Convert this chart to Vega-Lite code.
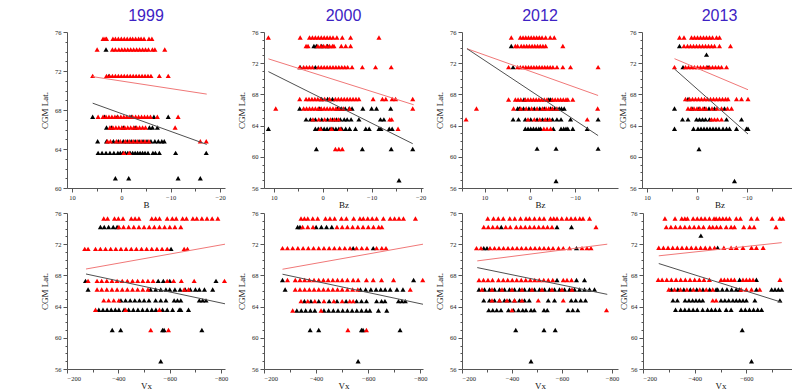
{
"$schema":"https://vega.github.io/schema/vega-lite/v6.json",
"background":"white",
"padding":{"left":40,"top":8,"right":0,"bottom":0},
"spacing":0,
"config":{
 "view":{"stroke":null},
 "axis":{"grid":false,"domainColor":"#555","tickColor":"#555","labelColor":"#222","labelFont":"Liberation Serif","labelFontSize":6.5,"labelOverlap":false,"titleFont":"Liberation Serif","titleFontSize":9,"titleFontWeight":"normal","titleColor":"#111","labelPadding":2,"tickSize":4},
 "axisY":{"titlePadding":5},
 "axisX":{"titlePadding":0},
 "point":{"shape":"triangle-up","filled":true,"size":26,"opacity":1,"strokeWidth":0},
 "line":{"strokeWidth":1},
 "title":{"font":"Liberation Sans","fontSize":16,"fontWeight":"normal","color":"#3d22c4","offset":5}
},
"datasets":{
"k1":[{"x":3.1,"y":74.2},{"x":2.5,"y":71.5},
{"x":5.8,"y":67.3},{"x":3.4,"y":67.3},{"x":0.8,"y":67.3},{"x":-2.0,"y":67.3},{"x":-6.6,"y":67.3},{"x":-9.5,"y":67.3},
{"x":3.0,"y":66.2},{"x":2.0,"y":66.2},{"x":-0.4,"y":66.2},{"x":-2.8,"y":66.2},{"x":-5.7,"y":66.2},{"x":-6.3,"y":66.2},{"x":-7.3,"y":66.2},
{"x":4.8,"y":64.8},{"x":3.0,"y":64.8},{"x":1.6,"y":64.8},{"x":0.6,"y":64.8},{"x":-0.4,"y":64.8},{"x":-1.2,"y":64.8},{"x":-2.0,"y":64.8},{"x":-2.8,"y":64.8},{"x":-3.6,"y":64.8},{"x":-4.4,"y":64.8},{"x":-5.2,"y":64.8},{"x":-6.0,"y":64.8},{"x":-6.8,"y":64.8},{"x":-7.5,"y":64.8},{"x":-8.2,"y":64.8},{"x":-8.7,"y":64.8},
{"x":4.7,"y":63.6},{"x":3.9,"y":63.6},{"x":3.1,"y":63.6},{"x":2.3,"y":63.6},{"x":1.5,"y":63.6},{"x":0.7,"y":63.6},{"x":0.2,"y":63.6},{"x":-0.3,"y":63.6},{"x":-0.8,"y":63.6},{"x":-1.3,"y":63.6},{"x":-1.8,"y":63.6},{"x":-2.3,"y":63.6},{"x":-2.8,"y":63.6},{"x":-3.3,"y":63.6},{"x":-3.8,"y":63.6},{"x":-4.3,"y":63.6},{"x":-4.8,"y":63.6},{"x":-5.4,"y":63.6},{"x":-6.4,"y":63.6},{"x":-6.9,"y":63.6},{"x":-7.7,"y":63.6},{"x":-11.0,"y":63.6},{"x":-17.2,"y":63.6},
{"x":1.2,"y":61.0},{"x":-1.5,"y":61.0},{"x":-11.5,"y":61.0},{"x":-16.0,"y":61.0}],
"r1":[{"x":3.7,"y":75.3},{"x":3.3,"y":75.3},{"x":3.0,"y":75.3},{"x":1.7,"y":75.3},{"x":1.2,"y":75.3},{"x":0.6,"y":75.3},{"x":0,"y":75.3},{"x":-0.6,"y":75.3},{"x":-1.2,"y":75.3},{"x":-1.8,"y":75.3},{"x":-2.3,"y":75.3},{"x":-2.9,"y":75.3},{"x":-3.5,"y":75.3},{"x":-4.0,"y":75.3},{"x":-4.6,"y":75.3},{"x":-5.6,"y":75.3},{"x":-6.2,"y":75.3},
{"x":4.9,"y":74.2},{"x":1.8,"y":74.2},{"x":1.2,"y":74.2},{"x":0.5,"y":74.2},{"x":-0.1,"y":74.2},{"x":-0.7,"y":74.2},{"x":-1.3,"y":74.2},{"x":-1.9,"y":74.2},{"x":-2.5,"y":74.2},{"x":-3.1,"y":74.2},{"x":-3.7,"y":74.2},{"x":-4.3,"y":74.2},{"x":-4.9,"y":74.2},{"x":-5.5,"y":74.2},{"x":-6.3,"y":74.2},{"x":-6.8,"y":74.2},{"x":-8.8,"y":74.2},
{"x":5.8,"y":71.5},{"x":3.0,"y":71.5},{"x":2.4,"y":71.5},{"x":1.8,"y":71.5},{"x":1.2,"y":71.5},{"x":0.6,"y":71.5},{"x":0,"y":71.5},{"x":-0.6,"y":71.5},{"x":-1.2,"y":71.5},{"x":-1.8,"y":71.5},{"x":-2.4,"y":71.5},{"x":-3.0,"y":71.5},{"x":-3.6,"y":71.5},{"x":-4.2,"y":71.5},{"x":-4.8,"y":71.5},{"x":-5.4,"y":71.5},{"x":-6.0,"y":71.5},{"x":-7.7,"y":71.5},{"x":-9.5,"y":71.5},
{"x":4.7,"y":67.3},{"x":3.7,"y":67.3},{"x":3.1,"y":67.3},{"x":2.5,"y":67.3},{"x":1.9,"y":67.3},{"x":1.3,"y":67.3},{"x":0.7,"y":67.3},{"x":0.1,"y":67.3},{"x":-0.5,"y":67.3},{"x":-1.1,"y":67.3},{"x":-1.7,"y":67.3},{"x":-2.3,"y":67.3},{"x":-2.9,"y":67.3},{"x":-3.5,"y":67.3},{"x":-4.1,"y":67.3},{"x":-4.7,"y":67.3},{"x":-5.3,"y":67.3},{"x":-5.9,"y":67.3},{"x":-7.3,"y":67.3},{"x":-11.5,"y":67.3},
{"x":2.3,"y":66.2},{"x":1.7,"y":66.2},{"x":1.1,"y":66.2},{"x":0.5,"y":66.2},{"x":-0.1,"y":66.2},{"x":-0.7,"y":66.2},{"x":-1.3,"y":66.2},{"x":-1.9,"y":66.2},{"x":-2.5,"y":66.2},{"x":-3.1,"y":66.2},{"x":-3.7,"y":66.2},{"x":-4.3,"y":66.2},{"x":-4.9,"y":66.2},{"x":-10.9,"y":66.2},
{"x":2.8,"y":64.8},{"x":2.2,"y":64.8},{"x":1.0,"y":64.8},{"x":0.2,"y":64.8},{"x":-0.8,"y":64.8},{"x":-1.6,"y":64.8},{"x":-2.4,"y":64.8},{"x":-3.2,"y":64.8},{"x":-4.0,"y":64.8},{"x":-4.8,"y":64.8},{"x":-5.6,"y":64.8},{"x":-16.0,"y":64.8},{"x":-17.2,"y":64.8},
{"x":-0.5,"y":63.6},{"x":-1.6,"y":63.6}],
"l1":[{"c":"r","x":5.8,"y":71.42},{"c":"r","x":-17.3,"y":69.63},{"c":"k","x":5.8,"y":68.7},{"c":"k","x":-17.3,"y":64.47}],
"k2":[{"x":1.8,"y":74.2},{"x":1.3,"y":74.2},{"x":0.2,"y":74.2},{"x":-1.0,"y":74.2},
{"x":4.6,"y":71.5},{"x":1.5,"y":71.5},
{"x":0.2,"y":67.4},{"x":-1.0,"y":67.4},{"x":-2.0,"y":67.4},
{"x":4.7,"y":66.2},{"x":0.6,"y":66.2},{"x":-3.0,"y":66.2},{"x":-3.8,"y":66.2},{"x":-4.6,"y":66.2},{"x":-5.4,"y":66.2},{"x":-6.0,"y":66.2},{"x":-8.2,"y":66.2},{"x":-10.0,"y":66.2},{"x":-11.0,"y":66.2},{"x":-13.9,"y":66.2},
{"x":3.4,"y":64.8},{"x":2.5,"y":64.8},{"x":1.5,"y":64.8},{"x":0.2,"y":64.8},{"x":-1.0,"y":64.8},{"x":-2.0,"y":64.8},{"x":-2.8,"y":64.8},{"x":-3.6,"y":64.8},{"x":-4.4,"y":64.8},{"x":-5.0,"y":64.8},{"x":-5.8,"y":64.8},{"x":-7.4,"y":64.8},{"x":-11.8,"y":64.8},{"x":-12.5,"y":64.8},
{"x":11.1,"y":63.6},{"x":1.5,"y":63.6},{"x":0.9,"y":63.6},{"x":0.3,"y":63.6},{"x":-0.3,"y":63.6},{"x":-0.9,"y":63.6},{"x":-1.5,"y":63.6},{"x":-2.1,"y":63.6},{"x":-2.7,"y":63.6},{"x":-3.3,"y":63.6},{"x":-3.9,"y":63.6},{"x":-4.7,"y":63.6},{"x":-5.5,"y":63.6},{"x":-6.7,"y":63.6},{"x":-8.8,"y":63.6},{"x":-9.5,"y":63.6},{"x":-11.5,"y":63.6},{"x":-11.9,"y":63.6},{"x":-13.6,"y":63.6},{"x":-14.2,"y":63.6},
{"x":1.3,"y":61.0},{"x":-8.1,"y":61.0},{"x":-14.0,"y":61.0},{"x":-18.4,"y":61.0},
{"x":-15.6,"y":57.0}],
"r2":[{"x":11.1,"y":75.3},{"x":4.6,"y":75.3},{"x":2.7,"y":75.3},{"x":2.1,"y":75.3},{"x":1.5,"y":75.3},{"x":0.9,"y":75.3},{"x":0.3,"y":75.3},{"x":-0.3,"y":75.3},{"x":-0.9,"y":75.3},{"x":-1.5,"y":75.3},{"x":-2.1,"y":75.3},{"x":-2.9,"y":75.3},{"x":-4.0,"y":75.3},{"x":-5.7,"y":75.3},{"x":-11.5,"y":75.3},
{"x":3.4,"y":74.2},{"x":3.0,"y":74.2},{"x":1.0,"y":74.2},{"x":0.4,"y":74.2},{"x":-0.2,"y":74.2},{"x":-0.8,"y":74.2},{"x":-1.4,"y":74.2},{"x":-2.0,"y":74.2},{"x":-2.3,"y":74.2},{"x":-3.8,"y":74.2},{"x":-4.7,"y":74.2},{"x":-5.7,"y":74.2},
{"x":4.7,"y":71.5},{"x":3.9,"y":71.5},{"x":3.3,"y":71.5},{"x":2.7,"y":71.5},{"x":2.1,"y":71.5},{"x":0.9,"y":71.5},{"x":0.3,"y":71.5},{"x":-0.3,"y":71.5},{"x":-0.9,"y":71.5},{"x":-1.5,"y":71.5},{"x":-2.1,"y":71.5},{"x":-2.7,"y":71.5},{"x":-3.3,"y":71.5},{"x":-3.9,"y":71.5},{"x":-4.5,"y":71.5},{"x":-5.1,"y":71.5},{"x":-6.0,"y":71.5},{"x":-8.1,"y":71.5},{"x":-10.8,"y":71.5},{"x":-14.0,"y":71.5},
{"x":4.7,"y":67.4},{"x":3.4,"y":67.4},{"x":2.8,"y":67.4},{"x":2.2,"y":67.4},{"x":1.6,"y":67.4},{"x":1.0,"y":67.4},{"x":0.4,"y":67.4},{"x":-0.4,"y":67.4},{"x":-1.4,"y":67.4},{"x":-2.6,"y":67.4},{"x":-3.2,"y":67.4},{"x":-3.8,"y":67.4},{"x":-4.4,"y":67.4},{"x":-5.0,"y":67.4},{"x":-5.6,"y":67.4},{"x":-6.2,"y":67.4},{"x":-6.8,"y":67.4},{"x":-7.4,"y":67.4},{"x":-10.3,"y":67.4},{"x":-12.2,"y":67.4},{"x":-12.9,"y":67.4},{"x":-14.2,"y":67.4},{"x":-14.9,"y":67.4},{"x":-18.4,"y":67.4},
{"x":9.6,"y":66.2},{"x":3.9,"y":66.2},{"x":3.3,"y":66.2},{"x":2.7,"y":66.2},{"x":2.1,"y":66.2},{"x":1.5,"y":66.2},{"x":0.9,"y":66.2},{"x":0.3,"y":66.2},{"x":-0.3,"y":66.2},{"x":-0.9,"y":66.2},{"x":-1.5,"y":66.2},{"x":-2.1,"y":66.2},{"x":-2.7,"y":66.2},{"x":-3.3,"y":66.2},{"x":-4.2,"y":66.2},{"x":-5.5,"y":66.2},{"x":-18.4,"y":66.2},
{"x":2.0,"y":64.8},{"x":0.8,"y":64.8},{"x":-0.4,"y":64.8},{"x":-1.6,"y":64.8},{"x":-2.4,"y":64.8},{"x":-3.2,"y":64.8},{"x":-13.7,"y":64.8},{"x":-14.1,"y":64.8},
{"x":0.5,"y":63.6},{"x":-1.8,"y":63.6},{"x":-3.6,"y":63.6},{"x":-15.4,"y":63.6},
{"x":-2.6,"y":61.0},{"x":-3.3,"y":61.0},{"x":-4.0,"y":61.0}],
"l2":[{"c":"r","x":11.1,"y":72.56},{"c":"r","x":-18.6,"y":66.67},{"c":"k","x":11.1,"y":70.92},{"c":"k","x":-18.4,"y":61.68}],
"k3":[{"x":4.1,"y":74.2},{"x":3.7,"y":71.5},
{"x":1.3,"y":67.35},{"x":-4.2,"y":67.35},{"x":-4.6,"y":67.35},
{"x":2.7,"y":66.2},{"x":2.3,"y":66.2},{"x":1.4,"y":66.2},{"x":0.2,"y":66.2},{"x":-1.0,"y":66.2},{"x":-2.2,"y":66.2},{"x":-3.2,"y":66.2},{"x":-4.6,"y":66.2},{"x":-5.5,"y":66.2},{"x":-6.5,"y":66.2},{"x":-7.0,"y":66.2},{"x":-7.6,"y":66.2},
{"x":3.7,"y":64.8},{"x":2.5,"y":64.8},{"x":1.0,"y":64.8},{"x":-0.2,"y":64.8},{"x":-1.6,"y":64.8},{"x":-2.8,"y":64.8},{"x":-3.9,"y":64.8},{"x":-5.0,"y":64.8},{"x":-6.0,"y":64.8},{"x":-6.9,"y":64.8},{"x":-9.0,"y":64.8},{"x":-15.1,"y":64.8},
{"x":1.0,"y":63.6},{"x":0.4,"y":63.6},{"x":-0.2,"y":63.6},{"x":-0.8,"y":63.6},{"x":-1.4,"y":63.6},{"x":-2.0,"y":63.6},{"x":-2.4,"y":63.6},{"x":-5.2,"y":63.6},{"x":-6.9,"y":63.6},{"x":-7.5,"y":63.6},{"x":-8.0,"y":63.6},{"x":-8.4,"y":63.6},{"x":-9.5,"y":63.6},{"x":-12.7,"y":63.6},
{"x":-1.6,"y":61.05},{"x":-5.8,"y":61.05},{"x":-15.1,"y":61.05},
{"x":-5.8,"y":56.9}],
"r3":[{"x":4.1,"y":75.3},{"x":2.1,"y":75.3},{"x":1.5,"y":75.3},{"x":0.9,"y":75.3},{"x":0.3,"y":75.3},{"x":-0.3,"y":75.3},{"x":-0.9,"y":75.3},{"x":-1.5,"y":75.3},{"x":-2.1,"y":75.3},{"x":-2.7,"y":75.3},{"x":-3.5,"y":75.3},{"x":-4.5,"y":75.3},{"x":-5.4,"y":75.3},
{"x":3.2,"y":74.2},{"x":2.7,"y":74.2},{"x":1.9,"y":74.2},{"x":1.3,"y":74.2},{"x":0.7,"y":74.2},{"x":0.1,"y":74.2},{"x":-0.5,"y":74.2},{"x":-1.1,"y":74.2},{"x":-1.7,"y":74.2},{"x":-2.3,"y":74.2},{"x":-2.9,"y":74.2},{"x":-3.5,"y":74.2},{"x":-7.3,"y":74.2},
{"x":4.7,"y":71.5},{"x":2.7,"y":71.5},{"x":2.1,"y":71.5},{"x":1.5,"y":71.5},{"x":0.9,"y":71.5},{"x":0.3,"y":71.5},{"x":-0.3,"y":71.5},{"x":-0.9,"y":71.5},{"x":-1.5,"y":71.5},{"x":-2.1,"y":71.5},{"x":-2.7,"y":71.5},{"x":-3.3,"y":71.5},{"x":-3.9,"y":71.5},{"x":-4.5,"y":71.5},{"x":-5.1,"y":71.5},{"x":-6.0,"y":71.5},{"x":-7.3,"y":71.5},{"x":-9.0,"y":71.5},{"x":-15.1,"y":71.5},
{"x":4.7,"y":67.35},{"x":3.2,"y":67.35},{"x":2.6,"y":67.35},{"x":2.0,"y":67.35},{"x":1.0,"y":67.35},{"x":0.4,"y":67.35},{"x":-0.2,"y":67.35},{"x":-0.8,"y":67.35},{"x":-1.4,"y":67.35},{"x":-2.0,"y":67.35},{"x":-2.6,"y":67.35},{"x":-3.2,"y":67.35},{"x":-3.8,"y":67.35},{"x":-5.0,"y":67.35},{"x":-5.6,"y":67.35},{"x":-6.2,"y":67.35},{"x":-6.8,"y":67.35},{"x":-7.4,"y":67.35},{"x":-8.0,"y":67.35},{"x":-8.4,"y":67.35},{"x":-9.5,"y":67.35},
{"x":11.8,"y":66.2},{"x":3.6,"y":66.2},{"x":2.0,"y":66.2},{"x":0.8,"y":66.2},{"x":-0.4,"y":66.2},{"x":-1.6,"y":66.2},{"x":-2.8,"y":66.2},{"x":-3.6,"y":66.2},{"x":-4.2,"y":66.2},{"x":-5.0,"y":66.2},{"x":-6.0,"y":66.2},{"x":-15.0,"y":66.2},
{"x":14.1,"y":64.8},{"x":0.4,"y":64.8},{"x":-1.0,"y":64.8},{"x":-2.2,"y":64.8},{"x":-3.4,"y":64.8},{"x":-4.4,"y":64.8},{"x":-12.7,"y":64.8},
{"x":-3.1,"y":63.6},{"x":-3.8,"y":63.6},{"x":-4.6,"y":63.6}],
"l3":[{"c":"r","x":13.9,"y":73.86},{"c":"r","x":-15.1,"y":67.86},{"c":"k","x":13.9,"y":73.86},{"c":"k","x":-15.1,"y":62.72}],
"k4":[{"x":3.5,"y":74.2},{"x":-1.9,"y":73.1},{"x":2.8,"y":71.5},{"x":-2.2,"y":71.5},{"x":1.8,"y":67.4},
{"x":4.5,"y":66.2},{"x":1.0,"y":66.2},{"x":-0.4,"y":66.2},{"x":-1.5,"y":66.2},{"x":-2.4,"y":66.2},{"x":-3.5,"y":66.2},{"x":-5.5,"y":66.2},
{"x":2.9,"y":64.8},{"x":1.8,"y":64.8},{"x":0.1,"y":64.8},{"x":-0.5,"y":64.8},{"x":-1.1,"y":64.8},{"x":-1.7,"y":64.8},{"x":-2.5,"y":64.8},{"x":-5.9,"y":64.8},{"x":-8.9,"y":64.8},
{"x":4.5,"y":63.6},{"x":0.7,"y":63.6},{"x":-0.2,"y":63.6},{"x":-0.8,"y":63.6},{"x":-1.4,"y":63.6},{"x":-2.0,"y":63.6},{"x":-2.6,"y":63.6},{"x":-3.2,"y":63.6},{"x":-3.8,"y":63.6},{"x":-4.4,"y":63.6},{"x":-5.2,"y":63.6},{"x":-5.9,"y":63.6},{"x":-6.5,"y":63.6},{"x":-7.9,"y":63.6},{"x":-9.9,"y":63.6},{"x":-10.2,"y":63.6},
{"x":-0.4,"y":61.0},{"x":-7.5,"y":56.9}],
"r4":[{"x":3.5,"y":75.3},{"x":2.6,"y":75.3},{"x":1.1,"y":75.3},{"x":0.5,"y":75.3},{"x":-0.1,"y":75.3},{"x":-0.7,"y":75.3},{"x":-1.3,"y":75.3},{"x":-1.9,"y":75.3},{"x":-2.5,"y":75.3},{"x":-3.1,"y":75.3},{"x":-3.9,"y":75.3},{"x":-4.5,"y":75.3},
{"x":2.6,"y":74.2},{"x":1.9,"y":74.2},{"x":1.3,"y":74.2},{"x":0.7,"y":74.2},{"x":0.1,"y":74.2},{"x":-0.5,"y":74.2},{"x":-1.1,"y":74.2},{"x":-1.7,"y":74.2},{"x":-2.3,"y":74.2},{"x":-2.9,"y":74.2},{"x":-3.5,"y":74.2},{"x":-4.5,"y":74.2},{"x":-6.7,"y":74.2},
{"x":4.5,"y":71.5},{"x":2.3,"y":71.5},{"x":1.7,"y":71.5},{"x":1.1,"y":71.5},{"x":0.5,"y":71.5},{"x":-0.1,"y":71.5},{"x":-0.7,"y":71.5},{"x":-1.3,"y":71.5},{"x":-1.9,"y":71.5},{"x":-2.5,"y":71.5},{"x":-3.1,"y":71.5},{"x":-3.7,"y":71.5},{"x":-4.3,"y":71.5},{"x":-4.9,"y":71.5},{"x":-5.9,"y":71.5},
{"x":2.3,"y":67.4},{"x":1.5,"y":67.4},{"x":0.9,"y":67.4},{"x":0.3,"y":67.4},{"x":-0.3,"y":67.4},{"x":-0.9,"y":67.4},{"x":-1.5,"y":67.4},{"x":-2.1,"y":67.4},{"x":-2.7,"y":67.4},{"x":-3.3,"y":67.4},{"x":-3.9,"y":67.4},{"x":-4.5,"y":67.4},{"x":-5.1,"y":67.4},{"x":-5.7,"y":67.4},{"x":-6.2,"y":67.4},{"x":-7.9,"y":67.4},{"x":-8.9,"y":67.4},{"x":-10.2,"y":67.4},
{"x":1.8,"y":66.2},{"x":1.2,"y":66.2},{"x":0.6,"y":66.2},{"x":0,"y":66.2},{"x":-0.6,"y":66.2},{"x":-1.2,"y":66.2},{"x":-1.8,"y":66.2},{"x":-3.0,"y":66.2},{"x":-4.0,"y":66.2},{"x":-4.9,"y":66.2},{"x":-6.1,"y":66.2},{"x":-6.9,"y":66.2},
{"x":-2.9,"y":64.8},{"x":-3.5,"y":64.8},{"x":-4.1,"y":64.8},{"x":-4.9,"y":64.8}],
"l4":[{"c":"r","x":4.5,"y":72.58},{"c":"r","x":-10.2,"y":68.6},{"c":"k","x":4.5,"y":71.26},{"c":"k","x":-10.2,"y":62.92}],
"k5":[{"x":-330,"y":74.2},{"x":-345,"y":74.2},{"x":-362,"y":74.2},{"x":-380,"y":74.2},{"x":-395,"y":74.2},
{"x":-605,"y":71.4},
{"x":-272,"y":67.3},{"x":-555,"y":67.3},{"x":-575,"y":67.3},{"x":-600,"y":67.3},{"x":-780,"y":67.3},
{"x":-282,"y":66.2},{"x":-525,"y":66.2},{"x":-545,"y":66.2},{"x":-565,"y":66.2},{"x":-585,"y":66.2},{"x":-600,"y":66.2},{"x":-620,"y":66.2},{"x":-640,"y":66.2},{"x":-660,"y":66.2},{"x":-680,"y":66.2},{"x":-700,"y":66.2},{"x":-715,"y":66.2},{"x":-735,"y":66.2},{"x":-767,"y":66.2},
{"x":-410,"y":64.8},{"x":-428,"y":64.8},{"x":-446,"y":64.8},{"x":-464,"y":64.8},{"x":-482,"y":64.8},{"x":-500,"y":64.8},{"x":-519,"y":64.8},{"x":-545,"y":64.8},{"x":-565,"y":64.8},{"x":-585,"y":64.8},{"x":-617,"y":64.8},{"x":-630,"y":64.8},{"x":-643,"y":64.8},{"x":-715,"y":64.8},{"x":-728,"y":64.8},{"x":-741,"y":64.8},
{"x":-324,"y":63.6},{"x":-340,"y":63.6},{"x":-356,"y":63.6},{"x":-372,"y":63.6},{"x":-388,"y":63.6},{"x":-402,"y":63.6},{"x":-422,"y":63.6},{"x":-440,"y":63.6},{"x":-458,"y":63.6},{"x":-476,"y":63.6},{"x":-494,"y":63.6},{"x":-512,"y":63.6},{"x":-530,"y":63.6},{"x":-546,"y":63.6},{"x":-572,"y":63.6},{"x":-590,"y":63.6},{"x":-611,"y":63.6},{"x":-637,"y":63.6},{"x":-643,"y":63.6},{"x":-673,"y":63.6},
{"x":-376,"y":61.0},{"x":-409,"y":61.0},{"x":-572,"y":61.0},{"x":-578,"y":61.0},{"x":-725,"y":61.0},
{"x":-565,"y":57.0}],
"r5":[{"x":-343,"y":75.3},{"x":-358,"y":75.3},{"x":-385,"y":75.3},{"x":-400,"y":75.3},{"x":-418,"y":75.3},{"x":-450,"y":75.3},{"x":-465,"y":75.3},{"x":-480,"y":75.3},{"x":-530,"y":75.3},{"x":-545,"y":75.3},{"x":-560,"y":75.3},{"x":-590,"y":75.3},{"x":-610,"y":75.3},{"x":-625,"y":75.3},{"x":-650,"y":75.3},{"x":-665,"y":75.3},{"x":-690,"y":75.3},{"x":-705,"y":75.3},{"x":-725,"y":75.3},{"x":-745,"y":75.3},{"x":-765,"y":75.3},{"x":-787,"y":75.3},
{"x":-402,"y":74.2},{"x":-420,"y":74.2},{"x":-440,"y":74.2},{"x":-460,"y":74.2},{"x":-480,"y":74.2},{"x":-500,"y":74.2},{"x":-520,"y":74.2},{"x":-540,"y":74.2},{"x":-560,"y":74.2},{"x":-580,"y":74.2},{"x":-600,"y":74.2},{"x":-620,"y":74.2},{"x":-643,"y":74.2},
{"x":-269,"y":71.4},{"x":-282,"y":71.4},{"x":-311,"y":71.4},{"x":-330,"y":71.4},{"x":-350,"y":71.4},{"x":-370,"y":71.4},{"x":-390,"y":71.4},{"x":-410,"y":71.4},{"x":-430,"y":71.4},{"x":-450,"y":71.4},{"x":-470,"y":71.4},{"x":-490,"y":71.4},{"x":-510,"y":71.4},{"x":-530,"y":71.4},{"x":-550,"y":71.4},{"x":-570,"y":71.4},{"x":-590,"y":71.4},{"x":-656,"y":71.4},{"x":-669,"y":71.4},
{"x":-282,"y":67.3},{"x":-317,"y":67.3},{"x":-335,"y":67.3},{"x":-355,"y":67.3},{"x":-375,"y":67.3},{"x":-395,"y":67.3},{"x":-415,"y":67.3},{"x":-435,"y":67.3},{"x":-455,"y":67.3},{"x":-475,"y":67.3},{"x":-495,"y":67.3},{"x":-515,"y":67.3},{"x":-535,"y":67.3},{"x":-590,"y":67.3},{"x":-615,"y":67.3},{"x":-645,"y":67.3},{"x":-695,"y":67.3},{"x":-813,"y":67.3},
{"x":-317,"y":66.2},{"x":-335,"y":66.2},{"x":-355,"y":66.2},{"x":-375,"y":66.2},{"x":-395,"y":66.2},{"x":-415,"y":66.2},{"x":-435,"y":66.2},{"x":-455,"y":66.2},{"x":-475,"y":66.2},{"x":-495,"y":66.2},{"x":-515,"y":66.2},{"x":-656,"y":66.2},{"x":-673,"y":66.2},
{"x":-343,"y":64.8},{"x":-362,"y":64.8},{"x":-382,"y":64.8},{"x":-402,"y":64.8},
{"x":-311,"y":63.6},{"x":-428,"y":63.6},{"x":-560,"y":63.6},
{"x":-526,"y":61.0},{"x":-595,"y":61.0}],
"l5":[{"c":"r","x":-274,"y":68.82},{"c":"r","x":-815,"y":72.0},{"c":"k","x":-274,"y":68.18},{"c":"k","x":-815,"y":64.36}],
"k6":[{"x":-329,"y":74.2},{"x":-338,"y":74.2},{"x":-400,"y":74.2},{"x":-420,"y":74.2},{"x":-440,"y":74.2},{"x":-460,"y":74.2},
{"x":-542,"y":71.5},{"x":-619,"y":71.5},
{"x":-271,"y":67.4},{"x":-774,"y":67.4},
{"x":-281,"y":66.2},{"x":-570,"y":66.2},{"x":-590,"y":66.2},{"x":-610,"y":66.2},{"x":-630,"y":66.2},{"x":-648,"y":66.2},{"x":-665,"y":66.2},{"x":-684,"y":66.2},{"x":-710,"y":66.2},{"x":-733,"y":66.2},
{"x":-355,"y":64.7},{"x":-380,"y":64.7},{"x":-410,"y":64.7},{"x":-450,"y":64.7},{"x":-480,"y":64.7},{"x":-515,"y":64.7},{"x":-555,"y":64.7},{"x":-574,"y":64.7},{"x":-593,"y":64.7},{"x":-632,"y":64.7},{"x":-651,"y":64.7},{"x":-664,"y":64.7},{"x":-716,"y":64.7},{"x":-729,"y":64.7},{"x":-742,"y":64.7},
{"x":-326,"y":63.5},{"x":-343,"y":63.5},{"x":-360,"y":63.5},{"x":-378,"y":63.5},{"x":-395,"y":63.5},{"x":-430,"y":63.5},{"x":-448,"y":63.5},{"x":-466,"y":63.5},{"x":-484,"y":63.5},{"x":-502,"y":63.5},{"x":-520,"y":63.5},{"x":-538,"y":63.5},{"x":-556,"y":63.5},{"x":-574,"y":63.5},{"x":-592,"y":63.5},{"x":-606,"y":63.5},{"x":-639,"y":63.5},{"x":-671,"y":63.5},
{"x":-377,"y":61.0},{"x":-410,"y":61.0},{"x":-574,"y":61.0},{"x":-580,"y":61.0},{"x":-722,"y":61.0},
{"x":-561,"y":57.0}],
"r6":[{"x":-342,"y":75.3},{"x":-355,"y":75.3},{"x":-368,"y":75.3},{"x":-387,"y":75.3},{"x":-406,"y":75.3},{"x":-436,"y":75.3},{"x":-453,"y":75.3},{"x":-471,"y":75.3},{"x":-497,"y":75.3},{"x":-516,"y":75.3},{"x":-544,"y":75.3},{"x":-568,"y":75.3},{"x":-581,"y":75.3},{"x":-598,"y":75.3},{"x":-615,"y":75.3},{"x":-632,"y":75.3},{"x":-658,"y":75.3},{"x":-684,"y":75.3},{"x":-701,"y":75.3},{"x":-718,"y":75.3},{"x":-735,"y":75.3},{"x":-781,"y":75.3},
{"x":-348,"y":74.2},{"x":-368,"y":74.2},{"x":-388,"y":74.2},{"x":-480,"y":74.2},{"x":-500,"y":74.2},{"x":-520,"y":74.2},{"x":-540,"y":74.2},{"x":-560,"y":74.2},{"x":-580,"y":74.2},{"x":-600,"y":74.2},{"x":-620,"y":74.2},{"x":-640,"y":74.2},{"x":-652,"y":74.2},
{"x":-271,"y":71.5},{"x":-290,"y":71.5},{"x":-310,"y":71.5},{"x":-330,"y":71.5},{"x":-350,"y":71.5},{"x":-370,"y":71.5},{"x":-390,"y":71.5},{"x":-410,"y":71.5},{"x":-430,"y":71.5},{"x":-450,"y":71.5},{"x":-470,"y":71.5},{"x":-490,"y":71.5},{"x":-510,"y":71.5},{"x":-530,"y":71.5},{"x":-555,"y":71.5},{"x":-575,"y":71.5},{"x":-595,"y":71.5},{"x":-632,"y":71.5},{"x":-652,"y":71.5},{"x":-668,"y":71.5},
{"x":-290,"y":67.4},{"x":-320,"y":67.4},{"x":-338,"y":67.4},{"x":-356,"y":67.4},{"x":-374,"y":67.4},{"x":-392,"y":67.4},{"x":-410,"y":67.4},{"x":-428,"y":67.4},{"x":-446,"y":67.4},{"x":-464,"y":67.4},{"x":-482,"y":67.4},{"x":-500,"y":67.4},{"x":-520,"y":67.4},{"x":-542,"y":67.4},{"x":-561,"y":67.4},{"x":-593,"y":67.4},{"x":-619,"y":67.4},{"x":-651,"y":67.4},{"x":-697,"y":67.4},{"x":-809,"y":67.4},
{"x":-320,"y":66.2},{"x":-338,"y":66.2},{"x":-356,"y":66.2},{"x":-374,"y":66.2},{"x":-392,"y":66.2},{"x":-410,"y":66.2},{"x":-428,"y":66.2},{"x":-446,"y":66.2},{"x":-464,"y":66.2},{"x":-482,"y":66.2},{"x":-500,"y":66.2},{"x":-520,"y":66.2},{"x":-540,"y":66.2},{"x":-560,"y":66.2},{"x":-761,"y":66.2},
{"x":-342,"y":64.7},{"x":-368,"y":64.7},{"x":-395,"y":64.7},{"x":-430,"y":64.7},{"x":-468,"y":64.7},{"x":-500,"y":64.7},{"x":-529,"y":64.7},{"x":-542,"y":64.7},
{"x":-310,"y":63.5},{"x":-419,"y":63.5},
{"x":-522,"y":61.0},{"x":-593,"y":61.0}],
"l6":[{"c":"r","x":-271,"y":68.79},{"c":"r","x":-810,"y":72.0},{"c":"k","x":-271,"y":68.15},{"c":"k","x":-810,"y":64.3}],
"k7":[{"x":-357,"y":74.2},{"x":-580,"y":74.2},{"x":-638,"y":74.2},
{"x":-287,"y":71.5},{"x":-300,"y":71.5},{"x":-658,"y":71.5},
{"x":-580,"y":67.4},{"x":-658,"y":67.4},{"x":-690,"y":67.4},
{"x":-268,"y":66.2},{"x":-290,"y":66.2},{"x":-310,"y":66.2},{"x":-330,"y":66.2},{"x":-350,"y":66.2},{"x":-370,"y":66.2},{"x":-390,"y":66.2},{"x":-410,"y":66.2},{"x":-430,"y":66.2},{"x":-450,"y":66.2},{"x":-470,"y":66.2},{"x":-490,"y":66.2},{"x":-510,"y":66.2},{"x":-530,"y":66.2},{"x":-550,"y":66.2},{"x":-570,"y":66.2},{"x":-590,"y":66.2},{"x":-610,"y":66.2},{"x":-630,"y":66.2},{"x":-650,"y":66.2},{"x":-670,"y":66.2},{"x":-690,"y":66.2},{"x":-710,"y":66.2},{"x":-730,"y":66.2},
{"x":-287,"y":64.8},{"x":-310,"y":64.8},{"x":-330,"y":64.8},{"x":-350,"y":64.8},{"x":-370,"y":64.8},{"x":-390,"y":64.8},{"x":-410,"y":64.8},{"x":-430,"y":64.8},{"x":-450,"y":64.8},{"x":-469,"y":64.8},{"x":-545,"y":64.8},{"x":-570,"y":64.8},{"x":-637,"y":64.8},{"x":-655,"y":64.8},{"x":-675,"y":64.8},{"x":-694,"y":64.8},
{"x":-307,"y":63.55},{"x":-323,"y":63.55},{"x":-339,"y":63.55},{"x":-356,"y":63.55},{"x":-386,"y":63.55},{"x":-406,"y":63.55},{"x":-426,"y":63.55},{"x":-443,"y":63.55},{"x":-456,"y":63.55},{"x":-476,"y":63.55},{"x":-489,"y":63.55},{"x":-528,"y":63.55},{"x":-541,"y":63.55},{"x":-624,"y":63.55},{"x":-643,"y":63.55},{"x":-663,"y":63.55},
{"x":-415,"y":61.0},{"x":-528,"y":61.0},{"x":-573,"y":61.0},
{"x":-476,"y":57.0}],
"r7":[{"x":-303,"y":75.3},{"x":-326,"y":75.3},{"x":-345,"y":75.3},{"x":-365,"y":75.3},{"x":-391,"y":75.3},{"x":-411,"y":75.3},{"x":-434,"y":75.3},{"x":-456,"y":75.3},{"x":-470,"y":75.3},{"x":-490,"y":75.3},{"x":-510,"y":75.3},{"x":-528,"y":75.3},{"x":-554,"y":75.3},{"x":-567,"y":75.3},{"x":-580,"y":75.3},{"x":-599,"y":75.3},{"x":-619,"y":75.3},{"x":-636,"y":75.3},{"x":-653,"y":75.3},{"x":-671,"y":75.3},{"x":-684,"y":75.3},{"x":-710,"y":75.3},
{"x":-287,"y":74.2},{"x":-305,"y":74.2},{"x":-323,"y":74.2},{"x":-341,"y":74.2},{"x":-375,"y":74.2},{"x":-393,"y":74.2},{"x":-417,"y":74.2},{"x":-435,"y":74.2},{"x":-453,"y":74.2},{"x":-471,"y":74.2},{"x":-489,"y":74.2},{"x":-507,"y":74.2},{"x":-525,"y":74.2},{"x":-542,"y":74.2},{"x":-560,"y":74.2},{"x":-736,"y":74.2},
{"x":-258,"y":71.5},{"x":-276,"y":71.5},{"x":-312,"y":71.5},{"x":-330,"y":71.5},{"x":-348,"y":71.5},{"x":-366,"y":71.5},{"x":-384,"y":71.5},{"x":-402,"y":71.5},{"x":-420,"y":71.5},{"x":-438,"y":71.5},{"x":-456,"y":71.5},{"x":-474,"y":71.5},{"x":-492,"y":71.5},{"x":-510,"y":71.5},{"x":-528,"y":71.5},{"x":-546,"y":71.5},{"x":-564,"y":71.5},{"x":-586,"y":71.5},{"x":-605,"y":71.5},{"x":-630,"y":71.5},{"x":-680,"y":71.5},{"x":-700,"y":71.5},{"x":-716,"y":71.5},
{"x":-268,"y":67.4},{"x":-286,"y":67.4},{"x":-304,"y":67.4},{"x":-322,"y":67.4},{"x":-346,"y":67.4},{"x":-365,"y":67.4},{"x":-383,"y":67.4},{"x":-401,"y":67.4},{"x":-419,"y":67.4},{"x":-437,"y":67.4},{"x":-455,"y":67.4},{"x":-473,"y":67.4},{"x":-491,"y":67.4},{"x":-509,"y":67.4},{"x":-527,"y":67.4},{"x":-545,"y":67.4},{"x":-563,"y":67.4},{"x":-605,"y":67.4},{"x":-620,"y":67.4},{"x":-638,"y":67.4},
{"x":-280,"y":66.2},{"x":-320,"y":66.2},{"x":-360,"y":66.2},{"x":-400,"y":66.2},{"x":-440,"y":66.2},{"x":-480,"y":66.2},{"x":-520,"y":66.2},{"x":-560,"y":66.2},{"x":-600,"y":66.2},{"x":-640,"y":66.2},
{"x":-320,"y":64.8},{"x":-350,"y":64.8},{"x":-380,"y":64.8},{"x":-410,"y":64.8},{"x":-440,"y":64.8},{"x":-505,"y":64.8},{"x":-605,"y":64.8},
{"x":-400,"y":63.55},{"x":-778,"y":63.55}],
"l7":[{"c":"r","x":-261,"y":69.86},{"c":"r","x":-781,"y":72.0},{"c":"k","x":-261,"y":69.0},{"c":"k","x":-781,"y":65.57}],
"k8":[{"x":-424,"y":73.1},{"x":-489,"y":71.55},{"x":-574,"y":67.45},{"x":-639,"y":67.45},
{"x":-310,"y":66.2},{"x":-335,"y":66.2},{"x":-358,"y":66.2},{"x":-383,"y":66.2},{"x":-408,"y":66.2},{"x":-432,"y":66.2},{"x":-458,"y":66.2},{"x":-483,"y":66.2},{"x":-489,"y":66.2},{"x":-507,"y":66.2},{"x":-525,"y":66.2},{"x":-543,"y":66.2},{"x":-561,"y":66.2},{"x":-574,"y":66.2},{"x":-639,"y":66.2},{"x":-698,"y":66.2},{"x":-711,"y":66.2},{"x":-724,"y":66.2},{"x":-737,"y":66.2},
{"x":-316,"y":64.8},{"x":-333,"y":64.8},{"x":-363,"y":64.8},{"x":-378,"y":64.8},{"x":-392,"y":64.8},{"x":-405,"y":64.8},{"x":-418,"y":64.8},{"x":-431,"y":64.8},{"x":-502,"y":64.8},{"x":-517,"y":64.8},{"x":-532,"y":64.8},{"x":-548,"y":64.8},{"x":-561,"y":64.8},{"x":-574,"y":64.8},{"x":-587,"y":64.8},{"x":-600,"y":64.8},{"x":-633,"y":64.8},{"x":-730,"y":64.8},
{"x":-326,"y":63.6},{"x":-346,"y":63.6},{"x":-362,"y":63.6},{"x":-378,"y":63.6},{"x":-394,"y":63.6},{"x":-410,"y":63.6},{"x":-431,"y":63.6},{"x":-450,"y":63.6},{"x":-465,"y":63.6},{"x":-480,"y":63.6},{"x":-496,"y":63.6},{"x":-522,"y":63.6},{"x":-541,"y":63.6},{"x":-580,"y":63.6},{"x":-596,"y":63.6},{"x":-612,"y":63.6},{"x":-628,"y":63.6},{"x":-644,"y":63.6},{"x":-659,"y":63.6},
{"x":-584,"y":61.0},{"x":-620,"y":57.0}],
"r8":[{"x":-285,"y":75.3},{"x":-324,"y":75.3},{"x":-350,"y":75.3},{"x":-362,"y":75.3},{"x":-372,"y":75.3},{"x":-394,"y":75.3},{"x":-410,"y":75.3},{"x":-425,"y":75.3},{"x":-440,"y":75.3},{"x":-457,"y":75.3},{"x":-475,"y":75.3},{"x":-483,"y":75.3},{"x":-496,"y":75.3},{"x":-509,"y":75.3},{"x":-522,"y":75.3},{"x":-535,"y":75.3},{"x":-561,"y":75.3},{"x":-577,"y":75.3},{"x":-619,"y":75.3},{"x":-642,"y":75.3},{"x":-700,"y":75.3},{"x":-730,"y":75.3},{"x":-741,"y":75.3},
{"x":-290,"y":74.2},{"x":-308,"y":74.2},{"x":-326,"y":74.2},{"x":-344,"y":74.2},{"x":-362,"y":74.2},{"x":-380,"y":74.2},{"x":-398,"y":74.2},{"x":-416,"y":74.2},{"x":-434,"y":74.2},{"x":-457,"y":74.2},{"x":-470,"y":74.2},{"x":-485,"y":74.2},{"x":-500,"y":74.2},{"x":-522,"y":74.2},{"x":-541,"y":74.2},{"x":-554,"y":74.2},{"x":-590,"y":74.2},{"x":-613,"y":74.2},{"x":-630,"y":74.2},{"x":-715,"y":74.2},
{"x":-261,"y":71.55},{"x":-279,"y":71.55},{"x":-297,"y":71.55},{"x":-315,"y":71.55},{"x":-333,"y":71.55},{"x":-351,"y":71.55},{"x":-369,"y":71.55},{"x":-387,"y":71.55},{"x":-405,"y":71.55},{"x":-423,"y":71.55},{"x":-441,"y":71.55},{"x":-459,"y":71.55},{"x":-477,"y":71.55},{"x":-513,"y":71.55},{"x":-541,"y":71.55},{"x":-561,"y":71.55},{"x":-587,"y":71.55},{"x":-620,"y":71.55},{"x":-639,"y":71.55},{"x":-665,"y":71.55},
{"x":-259,"y":67.45},{"x":-274,"y":67.45},{"x":-292,"y":67.45},{"x":-310,"y":67.45},{"x":-328,"y":67.45},{"x":-346,"y":67.45},{"x":-364,"y":67.45},{"x":-382,"y":67.45},{"x":-400,"y":67.45},{"x":-418,"y":67.45},{"x":-436,"y":67.45},{"x":-457,"y":67.45},{"x":-502,"y":67.45},{"x":-515,"y":67.45},{"x":-528,"y":67.45},{"x":-541,"y":67.45},{"x":-554,"y":67.45},{"x":-587,"y":67.45},{"x":-600,"y":67.45},{"x":-613,"y":67.45},{"x":-626,"y":67.45},{"x":-730,"y":67.45},
{"x":-300,"y":66.2},{"x":-322,"y":66.2},{"x":-345,"y":66.2},{"x":-370,"y":66.2},{"x":-395,"y":66.2},{"x":-420,"y":66.2},{"x":-445,"y":66.2},{"x":-470,"y":66.2},{"x":-580,"y":66.2},{"x":-600,"y":66.2},{"x":-620,"y":66.2},{"x":-652,"y":66.2},
{"x":-470,"y":64.8},{"x":-483,"y":64.8}],
"l8":[{"c":"r","x":-261,"y":70.51},{"c":"r","x":-737,"y":72.2},{"c":"k","x":-261,"y":69.52},{"c":"k","x":-737,"y":64.55}]
},
"vconcat":[
{"spacing":0,"hconcat":[
 {"bounds":"flush","spacing":39,"hconcat":[
  {"width":158,"height":156,"title":"1999","resolve":{"axis":{"x":"independent","y":"independent"}},"layer":[
   {"data":{"name":"k1"},"mark":{"type":"point","color":"#000000"},"encoding":{
    "x":{"field":"x","type":"quantitative","scale":{"domain":[11,-21],"nice":false,"zero":false},"axis":{"orient":"bottom","title":"B","values":[10,0,-10,-20]}},
    "y":{"field":"y","type":"quantitative","scale":{"domain":[60,76],"nice":false,"zero":false},"axis":{"orient":"left","title":"CGM Lat.","values":[60,64,68,72,76]}}}},
   {"data":{"name":"r1"},"mark":{"type":"point","color":"#ff0000"},"encoding":{
    "x":{"field":"x","type":"quantitative","axis":{"orient":"bottom","values":[5,-5,-15],"labels":false,"domain":false,"title":null,"tickSize":3}},
    "y":{"field":"y","type":"quantitative","axis":{"orient":"left","values":[61,62,63,65,66,67,69,70,71,73,74,75],"labels":false,"domain":false,"title":null,"tickSize":2}}}},
   {"data":{"name":"l1"},"mark":{"type":"line"},"encoding":{"x":{"field":"x","type":"quantitative","axis":null},"y":{"field":"y","type":"quantitative","axis":null},"color":{"field":"c","type":"nominal","scale":{"domain":["r","k"],"range":["#f07878","#505050"]},"legend":null}}}
  ]},
  {"width":159,"height":156,"title":"2000","resolve":{"axis":{"x":"independent","y":"independent"}},"layer":[
   {"data":{"name":"k2"},"mark":{"type":"point","color":"#000000"},"encoding":{
    "x":{"field":"x","type":"quantitative","scale":{"domain":[12,-20.5],"nice":false,"zero":false},"axis":{"orient":"bottom","title":"Bz","values":[10,0,-10,-20]}},
    "y":{"field":"y","type":"quantitative","scale":{"domain":[56,76],"nice":false,"zero":false},"axis":{"orient":"left","title":"CGM Lat.","values":[56,60,64,68,72,76]}}}},
   {"data":{"name":"r2"},"mark":{"type":"point","color":"#ff0000"},"encoding":{
    "x":{"field":"x","type":"quantitative","axis":{"orient":"bottom","values":[5,-5,-15],"labels":false,"domain":false,"title":null,"tickSize":3}},
    "y":{"field":"y","type":"quantitative","axis":{"orient":"left","values":[57,58,59,61,62,63,65,66,67,69,70,71,73,74,75],"labels":false,"domain":false,"title":null,"tickSize":2}}}},
   {"data":{"name":"l2"},"mark":{"type":"line"},"encoding":{"x":{"field":"x","type":"quantitative","axis":null},"y":{"field":"y","type":"quantitative","axis":null},"color":{"field":"c","type":"nominal","scale":{"domain":["r","k"],"range":["#f07878","#505050"]},"legend":null}}}
  ]},
  {"width":156,"height":156,"title":"2012","resolve":{"axis":{"x":"independent","y":"independent"}},"layer":[
   {"data":{"name":"k3"},"mark":{"type":"point","color":"#000000"},"encoding":{
    "x":{"field":"x","type":"quantitative","scale":{"domain":[15,-19.5],"nice":false,"zero":false},"axis":{"orient":"bottom","title":"Bz","values":[10,0,-10]}},
    "y":{"field":"y","type":"quantitative","scale":{"domain":[56,76],"nice":false,"zero":false},"axis":{"orient":"left","title":"CGM Lat.","values":[56,60,64,68,72,76]}}}},
   {"data":{"name":"r3"},"mark":{"type":"point","color":"#ff0000"},"encoding":{
    "x":{"field":"x","type":"quantitative","axis":{"orient":"bottom","values":[15,5,-5,-15],"labels":false,"domain":false,"title":null,"tickSize":3}},
    "y":{"field":"y","type":"quantitative","axis":{"orient":"left","values":[57,58,59,61,62,63,65,66,67,69,70,71,73,74,75],"labels":false,"domain":false,"title":null,"tickSize":2}}}},
   {"data":{"name":"l3"},"mark":{"type":"line"},"encoding":{"x":{"field":"x","type":"quantitative","axis":null},"y":{"field":"y","type":"quantitative","axis":null},"color":{"field":"c","type":"nominal","scale":{"domain":["r","k"],"range":["#f07878","#505050"]},"legend":null}}}
  ]}
 ]},
 {"width":155,"height":156,"title":"2013","resolve":{"axis":{"x":"independent","y":"independent"}},"layer":[
   {"data":{"name":"k4"},"mark":{"type":"point","color":"#000000"},"encoding":{
    "x":{"field":"x","type":"quantitative","scale":{"domain":[11,-20],"nice":false,"zero":false},"axis":{"orient":"bottom","title":"Bz","values":[10,0,-10]}},
    "y":{"field":"y","type":"quantitative","scale":{"domain":[56,76],"nice":false,"zero":false},"axis":{"orient":"left","title":"CGM Lat.","titlePadding":2,"values":[56,60,64,68,72,76]}}}},
   {"data":{"name":"r4"},"mark":{"type":"point","color":"#ff0000"},"encoding":{
    "x":{"field":"x","type":"quantitative","axis":{"orient":"bottom","values":[5,-5,-15],"labels":false,"domain":false,"title":null,"tickSize":3}},
    "y":{"field":"y","type":"quantitative","axis":{"orient":"left","values":[57,58,59,61,62,63,65,66,67,69,70,71,73,74,75],"labels":false,"domain":false,"title":null,"tickSize":2}}}},
   {"data":{"name":"l4"},"mark":{"type":"line"},"encoding":{"x":{"field":"x","type":"quantitative","axis":null},"y":{"field":"y","type":"quantitative","axis":null},"color":{"field":"c","type":"nominal","scale":{"domain":["r","k"],"range":["#f07878","#505050"]},"legend":null}}}
 ]}
]},
{"spacing":0,"hconcat":[
 {"bounds":"flush","spacing":39,"hconcat":[
  {"width":158,"height":156,"resolve":{"axis":{"x":"independent","y":"independent"}},"layer":[
   {"data":{"name":"k5"},"mark":{"type":"point","color":"#000000"},"encoding":{
    "x":{"field":"x","type":"quantitative","scale":{"domain":[-200,-815],"nice":false,"zero":false},"axis":{"orient":"bottom","title":"Vx","values":[-200,-400,-600,-800]}},
    "y":{"field":"y","type":"quantitative","scale":{"domain":[56,76],"nice":false,"zero":false},"axis":{"orient":"left","title":"CGM Lat.","values":[56,60,64,68,72,76]}}}},
   {"data":{"name":"r5"},"mark":{"type":"point","color":"#ff0000"},"encoding":{
    "x":{"field":"x","type":"quantitative","axis":{"orient":"bottom","values":[-300,-500,-700],"labels":false,"domain":false,"title":null,"tickSize":3}},
    "y":{"field":"y","type":"quantitative","axis":{"orient":"left","values":[57,58,59,61,62,63,65,66,67,69,70,71,73,74,75],"labels":false,"domain":false,"title":null,"tickSize":2}}}},
   {"data":{"name":"l5"},"mark":{"type":"line"},"encoding":{"x":{"field":"x","type":"quantitative","axis":null},"y":{"field":"y","type":"quantitative","axis":null},"color":{"field":"c","type":"nominal","scale":{"domain":["r","k"],"range":["#f07878","#505050"]},"legend":null}}}
  ]},
  {"width":159,"height":156,"resolve":{"axis":{"x":"independent","y":"independent"}},"layer":[
   {"data":{"name":"k6"},"mark":{"type":"point","color":"#000000"},"encoding":{
    "x":{"field":"x","type":"quantitative","scale":{"domain":[-200,-810],"nice":false,"zero":false},"axis":{"orient":"bottom","title":"Vx","values":[-200,-400,-600,-800]}},
    "y":{"field":"y","type":"quantitative","scale":{"domain":[56,76],"nice":false,"zero":false},"axis":{"orient":"left","title":"CGM Lat.","values":[56,60,64,68,72,76]}}}},
   {"data":{"name":"r6"},"mark":{"type":"point","color":"#ff0000"},"encoding":{
    "x":{"field":"x","type":"quantitative","axis":{"orient":"bottom","values":[-300,-500,-700],"labels":false,"domain":false,"title":null,"tickSize":3}},
    "y":{"field":"y","type":"quantitative","axis":{"orient":"left","values":[57,58,59,61,62,63,65,66,67,69,70,71,73,74,75],"labels":false,"domain":false,"title":null,"tickSize":2}}}},
   {"data":{"name":"l6"},"mark":{"type":"line"},"encoding":{"x":{"field":"x","type":"quantitative","axis":null},"y":{"field":"y","type":"quantitative","axis":null},"color":{"field":"c","type":"nominal","scale":{"domain":["r","k"],"range":["#f07878","#505050"]},"legend":null}}}
  ]},
  {"width":156,"height":156,"resolve":{"axis":{"x":"independent","y":"independent"}},"layer":[
   {"data":{"name":"k7"},"mark":{"type":"point","color":"#000000"},"encoding":{
    "x":{"field":"x","type":"quantitative","scale":{"domain":[-200,-824],"nice":false,"zero":false},"axis":{"orient":"bottom","title":"Vx","values":[-200,-400,-600,-800]}},
    "y":{"field":"y","type":"quantitative","scale":{"domain":[56,76],"nice":false,"zero":false},"axis":{"orient":"left","title":"CGM Lat.","values":[56,60,64,68,72,76]}}}},
   {"data":{"name":"r7"},"mark":{"type":"point","color":"#ff0000"},"encoding":{
    "x":{"field":"x","type":"quantitative","axis":{"orient":"bottom","values":[-300,-500,-700],"labels":false,"domain":false,"title":null,"tickSize":3}},
    "y":{"field":"y","type":"quantitative","axis":{"orient":"left","values":[57,58,59,61,62,63,65,66,67,69,70,71,73,74,75],"labels":false,"domain":false,"title":null,"tickSize":2}}}},
   {"data":{"name":"l7"},"mark":{"type":"line"},"encoding":{"x":{"field":"x","type":"quantitative","axis":null},"y":{"field":"y","type":"quantitative","axis":null},"color":{"field":"c","type":"nominal","scale":{"domain":["r","k"],"range":["#f07878","#505050"]},"legend":null}}}
  ]}
 ]},
 {"width":155,"height":156,"resolve":{"axis":{"x":"independent","y":"independent"}},"layer":[
   {"data":{"name":"k8"},"mark":{"type":"point","color":"#000000"},"encoding":{
    "x":{"field":"x","type":"quantitative","scale":{"domain":[-200,-800],"nice":false,"zero":false},"axis":{"orient":"bottom","title":"Vx","values":[-200,-400,-600]}},
    "y":{"field":"y","type":"quantitative","scale":{"domain":[56,76],"nice":false,"zero":false},"axis":{"orient":"left","title":"CGM Lat.","titlePadding":2,"values":[56,60,64,68,72,76]}}}},
   {"data":{"name":"r8"},"mark":{"type":"point","color":"#ff0000"},"encoding":{
    "x":{"field":"x","type":"quantitative","axis":{"orient":"bottom","values":[-300,-500,-700],"labels":false,"domain":false,"title":null,"tickSize":3}},
    "y":{"field":"y","type":"quantitative","axis":{"orient":"left","values":[57,58,59,61,62,63,65,66,67,69,70,71,73,74,75],"labels":false,"domain":false,"title":null,"tickSize":2}}}},
   {"data":{"name":"l8"},"mark":{"type":"line"},"encoding":{"x":{"field":"x","type":"quantitative","axis":null},"y":{"field":"y","type":"quantitative","axis":null},"color":{"field":"c","type":"nominal","scale":{"domain":["r","k"],"range":["#f07878","#505050"]},"legend":null}}}
 ]}
]}
]
}
